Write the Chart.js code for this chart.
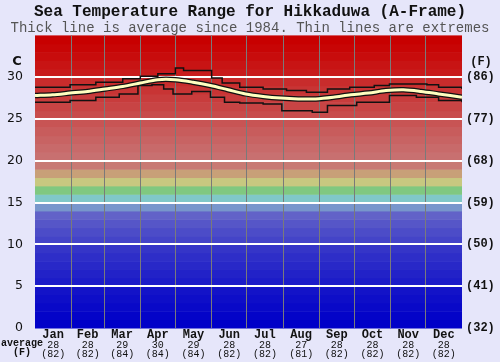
<!DOCTYPE html>
<html>
<head>
<meta charset="utf-8">
<style>
	body { margin: 0; background: #e6e6fa; }
	#graf { display: block; }
</style>
</head>
<body>
<canvas id="graf" width="500" height="362"></canvas>
<script src="https://cdn.jsdelivr.net/npm/chart.js"></script>
<script>
	// day of year where each month starts (interior boundaries only)
	const monthStarts = [31, 59, 90, 120, 151, 181, 212, 243, 273, 304, 334];
	const monthMids = [15.5, 45, 74.5, 105, 135.5, 166, 196.5, 227.5, 258, 288.5, 319, 349.5];
	const monthNames = ["Jan", "Feb", "Mar", "Apr", "May", "Jun", "Jul", "Aug", "Sep", "Oct", "Nov", "Dec"];
	const monthAvgC = ["28", "28", "29", "30", "29", "28", "28", "27", "28", "28", "28", "28"];
	const monthAvgF = ["(82)", "(82)", "(84)", "(84)", "(84)", "(82)", "(82)", "(81)", "(82)", "(82)", "(82)", "(82)"];

	const avgDays = [0, 15, 30, 45, 60, 75, 90, 105, 120, 135, 150, 165, 180, 195, 210, 225, 240, 255, 270, 285, 300, 315, 330, 345, 365];
	const avgTemp = [27.8, 27.9, 28.1, 28.3, 28.6, 28.9, 29.3, 29.7, 29.7, 29.4, 29.0, 28.5, 28.0, 27.7, 27.5, 27.4, 27.4, 27.6, 27.9, 28.1, 28.4, 28.5, 28.3, 28.0, 27.6];

	const maxDays = [0, 30, 52, 75, 90, 105, 120, 127, 151, 160, 175, 195, 215, 232, 250, 269, 290, 303, 335, 345, 365];
	const maxTemp = [28.8, 29.1, 29.4, 29.8, 30.1, 30.4, 31.1, 30.8, 29.9, 29.3, 28.8, 28.6, 28.4, 28.2, 28.6, 28.8, 29.0, 29.2, 29.1, 28.8, 28.6];

	const minDays = [0, 30, 52, 72, 88, 100, 110, 118, 134, 150, 162, 175, 195, 211, 237, 250, 275, 303, 326, 345, 365];
	const minTemp = [27.0, 27.2, 27.6, 28.0, 29.0, 29.1, 28.6, 28.0, 28.3, 27.6, 27.0, 26.9, 26.8, 26.0, 25.8, 26.6, 27.0, 27.8, 27.6, 27.2, 27.0];

	const yTicks = [0, 5, 10, 15, 20, 25, 30];
	const fLabels = ["(32)", "(41)", "(50)", "(59)", "(68)", "(77)", "(86)"];

	// one colour per 1 degree band, from 0 upward
	const bandColors = [
		"#0000c8", "#0404c8", "#0909c8", "#0e0ec8", "#1313c8",
		"#1c1cc8", "#2222c8", "#2828c8", "#2e2ec8", "#3535c8",
		"#4444c8", "#4c4cc8", "#5656c8", "#6262c8", "#7896cc",
		"#80c8c8", "#80c880", "#c8c880", "#c8a078", "#c87a74",
		"#c87070", "#c86a6a", "#c86363", "#c85c5c", "#c85454",
		"#c84c4c", "#c84444", "#c83c3c", "#c83434", "#c82c2c",
		"#c81c1c", "#c81414", "#c80c0c", "#c80505", "#c80000",
	];

	const pts = (xs, ys) => xs.map((d, i) => ({ x: d, y: ys[i] }));
	const mono = "'Liberation Mono', 'DejaVu Sans Mono', monospace";

	const bands = {
		id: "bands",
		beforeDraw(chart) {
			const ctx = chart.ctx;
			const a = chart.chartArea;
			const y = chart.scales.y;
			ctx.save();
			ctx.fillStyle = "#e6e6fa";
			ctx.fillRect(0, 0, chart.width, chart.height);
			for (let i = 0; i < bandColors.length; i++) {
				const top = y.getPixelForValue(i + 1);
				const bot = y.getPixelForValue(i);
				ctx.fillStyle = bandColors[i];
				ctx.fillRect(a.left, top, a.right - a.left, bot - top + 0.5);
			}
			ctx.restore();
		},
		afterDraw(chart) {
			const ctx = chart.ctx;
			ctx.save();
			ctx.fillStyle = "#111";
			ctx.textBaseline = "middle";
			ctx.font = "bold 13px 'DejaVu Sans', sans-serif";
			ctx.textAlign = "center";
			ctx.fillText("C", 17, 62);
			ctx.font = "bold 12px " + mono;
			ctx.fillText("(F)", 481, 62);
			ctx.font = "bold 10px " + mono;
			ctx.textAlign = "left";
			ctx.fillText("average", 1, 343);
			ctx.textAlign = "center";
			ctx.fillText("(F)", 22, 352);
			ctx.restore();
		},
	};

	// datasets listed first are drawn on top
	new Chart(document.getElementById("graf"), {
		type: "line",
		data: {
			datasets: [
				{
					data: pts(avgDays, avgTemp),
					borderColor: "#ffffc0",
					borderWidth: 3,
					tension: 0.3,
					pointRadius: 0,
				},
				{
					data: pts(avgDays, avgTemp),
					borderColor: "#111",
					borderWidth: 5.5,
					tension: 0.3,
					pointRadius: 0,
				},
				{
					data: pts(maxDays, maxTemp),
					borderColor: "#111",
					borderWidth: 1.5,
					stepped: true,
					pointRadius: 0,
				},
				{
					data: pts(minDays, minTemp),
					borderColor: "#111",
					borderWidth: 1.5,
					stepped: true,
					pointRadius: 0,
				},
			],
		},
		options: {
			responsive: false,
			animation: false,
			layout: { padding: 0 },
			plugins: {
				legend: { display: false },
				tooltip: { enabled: false },
				title: {
					display: true,
					text: "Sea Temperature Range for Hikkaduwa (A-Frame)",
					color: "#111",
					font: { family: mono, size: 16, weight: "bold", lineHeight: 1.15 },
					padding: { top: 3, bottom: 0 },
				},
				subtitle: {
					display: true,
					text: "Thick line is average since 1984. Thin lines are extremes",
					color: "#555",
					font: { family: mono, size: 14, lineHeight: 1 },
					padding: { top: 0, bottom: 0 },
				},
			},
			scales: {
				x: {
					type: "linear",
					min: 0,
					max: 365,
					afterBuildTicks: (s) => { s.ticks = monthStarts.map((v) => ({ value: v })); },
					ticks: { display: false },
					grid: { color: "#7a7a7a", lineWidth: 1, drawTicks: false },
					border: { display: false },
					afterFit: (s) => { s.height = 0; },
				},
				x2: {
					type: "linear",
					position: "bottom",
					min: 0,
					max: 365,
					afterBuildTicks: (s) => { s.ticks = monthMids.map((v) => ({ value: v })); },
					ticks: {
						autoSkip: false,
						maxRotation: 0,
						padding: 1,
						color: "#111",
						font: { family: mono, size: 12, weight: "bold", lineHeight: 1 },
						callback: (v, i) => monthNames[i],
					},
					grid: { display: false, drawTicks: false },
					border: { display: false },
					afterFit: (s) => { s.height = 13; },
				},
				x3: {
					type: "linear",
					position: "bottom",
					min: 0,
					max: 365,
					afterBuildTicks: (s) => { s.ticks = monthMids.map((v) => ({ value: v })); },
					ticks: {
						autoSkip: false,
						maxRotation: 0,
						padding: 0,
						color: "#111",
						font: { family: mono, size: 10, lineHeight: 0.9 },
						callback: (v, i) => [monthAvgC[i], monthAvgF[i]],
					},
					grid: { display: false, drawTicks: false },
					border: { display: false },
					afterFit: (s) => { s.height = 21; },
				},
				y: {
					min: 0,
					max: 35,
					afterBuildTicks: (s) => { s.ticks = yTicks.map((v) => ({ value: v })); },
					ticks: {
						padding: 12,
						color: "#111",
						font: { family: "'DejaVu Sans', sans-serif", size: 12.5 },
					},
					grid: {
						color: (c) => (c.tick && c.tick.value > 0 ? "#ffffff" : "rgba(0,0,0,0)"),
						lineWidth: 2,
						drawTicks: false,
					},
					border: { display: false },
					afterFit: (s) => { s.width = 35; },
				},
				y2: {
					position: "right",
					min: 0,
					max: 35,
					afterBuildTicks: (s) => { s.ticks = yTicks.map((v) => ({ value: v })); },
					ticks: {
						padding: 4,
						color: "#111",
						font: { family: mono, size: 12, weight: "bold" },
						callback: (v, i) => fLabels[i],
					},
					grid: { display: false, drawTicks: false },
					border: { display: false },
					afterFit: (s) => { s.width = 38; },
				},
			},
		},
		plugins: [bands],
	});
</script>
</body>
</html>
